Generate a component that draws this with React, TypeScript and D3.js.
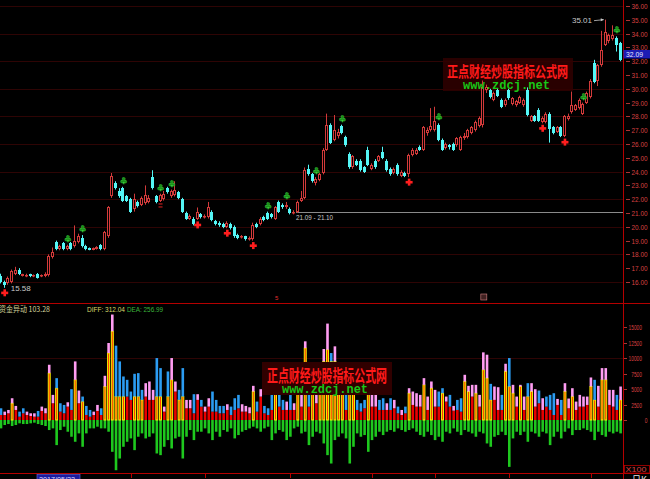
import React from "react";
import * as d3 from "d3";

// ---------- price data (daily candles) ----------
const opens = [16.4,16.0,15.9,16.0,16.6,16.9,16.45,16.4,16.55,16.4,
16.6,16.4,16.4,16.5,17.8,18.9,18.4,18.8,18.4,18.8,
18.6,18.9,19.2,18.6,18.45,18.35,18.4,18.7,18.4,19.3,
22.2,23.2,22.6,22.8,22.2,22.0,21.3,21.8,21.6,21.7,
21.8,23.6,22.2,21.9,22.0,22.8,22.2,22.3,22.5,22.0,
21.0,20.6,20.6,20.6,20.9,20.7,20.7,21.1,20.4,20.3,
20.2,20.0,20.2,20.0,19.4,19.25,19.3,19.1,19.1,20.2,
20.2,20.7,21.0,20.9,20.6,21.8,21.6,21.4,21.3,21.0,
21.1,21.9,22.1,24.2,23.8,23.2,23.4,23.9,25.6,27.4,
26.3,26.6,27.3,26.5,25.3,24.3,24.8,24.8,24.3,25.6,
24.2,24.8,24.8,25.4,24.8,24.2,23.9,24.5,23.7,23.9,
23.8,25.2,25.3,25.8,25.6,26.8,27.0,27.0,27.4,26.3,
25.7,25.9,26.0,25.9,25.6,26.4,26.5,26.8,27.0,27.3,
27.4,29.9,29.9,29.2,29.9,29.2,28.8,29.9,28.9,28.8,
29.0,28.8,29.9,27.7,28.0,28.5,27.6,27.6,28.2,27.2,
26.9,27.2,26.6,27.8,28.3,28.5,28.6,28.2,29.0,29.4,
31.9,30.6,31.7,33.2,33.5,33.6,33.7,33.3];

const closes = [16.0,15.8,16.3,16.8,16.9,16.6,16.55,16.5,16.4,16.5,
16.3,16.5,16.6,17.9,18.2,18.4,18.6,18.4,18.6,18.4,
19.0,19.3,18.6,18.4,18.35,18.45,18.55,18.4,19.6,21.4,
23.7,22.8,22.2,21.9,21.9,21.1,22.0,21.5,22.1,22.3,
22.1,22.8,21.8,22.3,22.4,22.5,22.6,22.7,22.1,21.1,
20.6,20.8,20.2,21.1,20.7,20.8,21.4,20.5,20.2,20.1,
20.0,20.3,19.9,19.3,19.2,19.35,19.1,19.2,20.1,20.0,
20.6,20.5,20.6,20.7,21.4,21.1,21.4,21.6,21.0,21.1,
21.8,22.1,24.1,23.8,23.3,23.5,23.8,25.6,27.4,26.1,
27.0,26.9,26.8,25.9,24.3,25.1,24.5,24.1,24.0,24.5,
24.5,24.3,25.1,25.0,24.1,23.8,24.2,23.8,24.0,23.7,
25.2,25.6,25.6,25.6,27.2,27.0,27.3,27.7,26.3,25.6,
26.0,25.75,25.6,26.4,26.5,26.6,27.0,27.2,27.6,27.9,
30.1,30.1,29.4,29.7,29.5,28.7,29.2,29.3,29.3,29.1,
29.4,29.2,28.1,28.0,27.7,27.7,27.9,28.2,27.1,26.8,
27.2,26.6,28.0,28.0,28.8,28.8,29.2,28.9,29.7,30.6,
30.5,31.7,32.8,34.1,33.9,33.9,33.2,32.09];

const highs = [16.6,16.1,16.4,16.9,17.1,17.0,16.6,16.6,16.6,16.55,
16.65,16.55,16.7,18.0,18.5,19.0,18.7,18.9,18.7,18.9,
20.1,19.5,19.4,18.7,18.5,18.5,18.6,18.75,19.7,21.5,
23.9,23.3,22.8,22.9,22.3,22.1,22.4,21.9,22.2,23.0,
22.3,24.1,22.3,22.4,22.6,22.9,22.7,23.3,22.6,22.1,
21.1,20.9,20.7,21.4,21.0,20.9,21.8,21.2,20.5,20.4,
20.3,20.4,20.3,20.1,19.5,19.4,19.35,19.3,20.3,20.3,
20.7,20.8,21.1,21.0,21.5,21.9,21.7,21.8,21.4,21.2,
21.9,22.6,24.3,24.5,23.9,23.6,23.9,25.7,28.2,27.5,
28.1,27.1,27.4,26.6,25.4,25.2,24.9,24.9,24.4,25.8,
24.6,24.9,25.2,25.8,24.9,24.3,24.3,24.6,24.1,24.0,
25.3,25.7,25.7,25.9,27.3,27.2,28.6,28.7,27.5,26.4,
26.1,26.0,26.1,26.5,26.6,26.8,27.1,27.3,27.7,28.0,
30.6,30.3,30.0,29.8,30.0,29.3,29.3,30.0,29.4,29.2,
29.5,29.3,30.1,28.1,28.1,28.6,28.0,28.3,28.3,27.3,
27.3,27.3,28.1,28.2,29.8,28.9,29.3,29.0,29.8,30.7,
32.1,31.8,34.2,35.01,34.0,34.6,33.8,33.4];

const lows = [15.9,15.58,15.8,15.9,16.5,16.5,16.4,16.35,16.35,16.35,
16.25,16.35,16.35,16.4,17.7,18.3,18.3,18.3,18.3,18.3,
18.5,18.8,18.5,18.3,18.3,18.3,18.35,18.3,18.3,19.2,
22.1,22.7,22.1,21.8,21.8,21.0,21.1,21.4,21.5,21.6,
21.7,22.7,21.7,21.8,21.9,22.4,22.1,22.2,22.0,21.0,
20.5,20.5,20.1,20.5,20.6,20.6,20.6,20.4,20.1,20.0,
19.9,19.9,19.8,19.2,19.1,19.15,19.0,19.0,19.0,19.9,
20.1,20.4,20.5,20.6,20.5,21.0,21.3,21.3,20.9,20.9,
21.0,21.8,22.0,23.7,23.2,23.0,23.3,23.8,25.5,26.0,
26.2,26.4,26.7,25.8,24.2,24.2,24.4,24.0,23.9,24.4,
24.1,24.2,24.7,24.9,24.0,23.7,23.8,23.7,23.6,23.6,
23.6,25.1,25.2,25.5,25.5,26.6,26.9,26.9,26.2,25.5,
25.6,25.6,25.5,25.8,25.5,26.3,26.4,26.7,26.9,27.2,
27.2,29.7,29.3,29.1,29.4,28.6,28.7,29.2,28.8,28.7,
28.9,28.7,28.0,27.6,27.6,27.6,27.5,27.5,26.1,26.7,
26.8,26.5,26.5,27.7,28.2,28.4,28.5,28.1,28.9,29.3,
30.4,30.2,31.6,33.1,33.3,33.5,32.7,32.0];

// ---------- lower panel (资金异动, X100) ----------
const volTotal = [1890,1350,1620,3510,2270,1350,1890,1350,1080,1080,
1460,2160,1890,8910,4050,6750,2700,2430,2860,4970,
9450,4750,3780,2270,1620,1350,2430,1890,7130,12420,
17010,11990,9450,7020,6480,4590,7450,7560,4860,5940,
6210,4860,9990,8370,2160,7830,9990,6210,4860,8370,
3240,3240,4160,4160,3240,2160,3510,4590,3240,2270,
2270,2540,2160,3510,4050,2540,2270,2050,5510,2970,
4970,2270,1890,5400,5900,4900,3240,2970,5600,2700,
6200,5000,12690,4700,6800,5300,6500,11450,15550,10800,
11880,7200,6000,5200,7600,6300,3240,2700,3240,6600,
5100,4700,3240,3510,2700,3510,3240,2160,1620,2160,
5130,4590,4320,4050,6750,3780,6210,4860,4590,5130,
3780,4050,2270,3240,3510,7290,5510,5670,5670,4050,
10910,10530,5830,5400,5290,4050,9070,9990,5670,3780,
5670,3780,5940,5940,4970,4750,3510,3780,4050,4320,
3400,3240,5940,3460,5130,2970,4050,3780,3780,6860,
6480,5510,8370,8370,4860,4860,4050,5400];

const volRed = [810,810,1080,2700,1620,540,1080,810,650,540,
540,1460,1080,7560,2700,5130,1350,1080,2160,1620,
6480,2700,2970,810,540,810,1460,810,5400,10800,
14310,3780,3780,3780,3780,3240,3780,3780,3240,3780,
3240,3240,3780,3780,1350,3780,6480,4590,3240,3780,
1890,1890,1080,3240,2160,1350,2160,1350,1350,1080,
1080,1620,810,1620,1890,1350,1350,1080,4590,1350,
3780,1080,810,1620,5300,2160,1620,1620,1620,1620,
5600,2160,11610,2160,6200,2700,5900,9450,11340,9450,
9450,6600,5400,1620,7000,5700,1620,1350,1890,6000,
2160,2160,1620,1620,1620,1620,1890,1080,810,1080,
4320,2430,2160,2160,5670,1620,5130,2160,2160,4320,
2970,2160,1510,1620,1350,6210,4590,3780,4320,2160,
8100,6750,3240,3240,1620,1620,7830,5400,4320,2160,
5400,1620,3780,4590,2160,2700,1620,2160,1620,810,
2430,810,4590,1890,3780,1620,2160,2160,2430,5400,
3240,2160,6480,6480,2430,2160,1620,3240];

const volNeg = [1350,810,650,970,810,540,650,650,540,430,
650,810,970,1620,1350,4050,1620,1080,1890,2700,
3510,2160,4320,2160,1350,1350,1080,1350,1350,1890,
5130,8100,6210,4320,3510,2970,4860,2700,2160,2970,
2700,2160,5400,5670,4320,3240,4590,2970,2700,6210,
2700,1620,3240,1890,1890,1350,2160,3240,1890,2700,
1620,1890,1350,2970,2430,1890,1620,1350,1080,1350,
1890,1350,1080,3240,2160,1620,1890,3240,2700,1350,
1080,2160,1890,4050,2700,1890,2160,3780,5670,7020,
3240,2700,2160,2970,7020,4320,2160,2700,2430,5130,
3240,2700,1890,2430,1890,1620,1890,1350,1620,1890,
1620,1350,1890,2430,2700,1890,2430,3240,2700,3510,
1890,2160,1350,1890,2430,1620,1890,2160,2700,1890,
2160,3780,4320,2700,2430,1890,2430,7560,2970,1890,
2430,1890,3510,1890,2160,2700,1890,2160,4050,2700,
1890,2970,1890,1350,2430,1620,1620,1350,1620,1890,
3240,1890,2430,2700,1890,2160,1890,2160];

// cap colour of each bar: p = pink, b = blue
const capKinds =
  "bppppbbppp" + "bppppbbbpb" + "ppbbbppbpp" + "pbbbbbbbbp" + "ppbbpbppbb" +
  "ppbpbppbbb" + "bpbbbppppb" + "pbbbbbbpbp" + "pppbppbppb" + "pbbbbbbbbp" +
  "ppbbpbpbpb" + "ppppppppbb" + "pbpbbppppp" + "ppbppbpbpp" + "ppbppbpbbb" +
  "pbpppppppp" + "bpppppbp";
// y = yellow-framed bar
const yellowFlags =
  "...y......" + "...y.y...." + "y.y.....yy" + "yyyy..yyy." + "..yy.yy.yy" +
  ".........." + "........y." + "....y....." + "y.y.y.yyyy" + "yyy.yy...y" +
  ".........." + "y...y.y..y" + ".....yy.y." + "yyy...yyy." + "y.yy......" +
  "..y.y....y" + "y.yy...y";

const priceTicks = [16,17,18,19,20,21,22,23,24,25,26,27,28,29,30,31,32,33,34,35,36];
const volTicks = [0,2500,5000,7500,10000,12500,15000];
const monthLabels = ["7","8","9","10","11","12","1"];
const monthStarts = [35,55,78,100,117,137,159];
const clubIdx = [18,22,33,43,46,72,77,85,92,118,157,166];
const crossIdx = [1,53,61,68,110,146,152];
const rangeLow = 21.09, rangeHigh = 21.10, rangeStart = 79;
const fundValue = 103.28, diffValue = 312.04, deaValue = 256.99;
const cursorDate = "2017/05/22";

const W = 650, H = 479, AX = 623;

export default function App() {
  const n = closes.length;
  const x = d3.scaleLinear().domain([0, n - 1]).range([1, 620.6]);
  const y = d3.scaleLinear().domain([16, 36]).range([282, 6]);
  const yv = d3.scaleLinear().domain([0, 15000]).range([420, 327]);
  const num = "'Liberation Sans', Arial, sans-serif";
  const cjk = "'Noto Sans CJK SC', sans-serif";
  const upC = "#d23a3a", dnC = "#54f6f6";
  const axisRed = "#b40000", labRed = "#d84040", gridC = "#2e0404";
  const hiIdx = d3.maxIndex(highs);
  const loIdx = d3.minIndex(lows);
  const last = closes[n - 1];

  const candles = closes.map((c, i) => {
    const o = opens[i];
    const cx = Math.round(x(i));
    const up = c >= o;
    const col = up ? upC : dnC;
    const yTop = Math.round(y(Math.max(o, c)));
    const yBot = Math.round(y(Math.min(o, c)));
    const h = Math.max(1, yBot - yTop);
    return (
      <g key={"c" + i}>
        <line x1={cx - 0.5} x2={cx - 0.5} y1={y(highs[i])} y2={yTop} stroke={col} strokeWidth={1} />
        <line x1={cx - 0.5} x2={cx - 0.5} y1={yTop + h} y2={y(lows[i])} stroke={col} strokeWidth={1} />
        {up ? (
          <rect x={cx - 1.5} y={yTop + 0.5} width={2} height={Math.max(h - 1, 0.5)} fill="#000" stroke={col} strokeWidth={1} />
        ) : (
          <rect x={cx - 2} y={yTop} width={3} height={h} fill={col} />
        )}
      </g>
    );
  });

  const bars = volTotal.map((t, i) => {
    const cx = x(i);
    const r = volRed[i];
    const capCol = capKinds[i] === "p" ? "#ff9cf2" : "#2b9cf2";
    const yel = yellowFlags[i] === "y";
    return (
      <g key={"v" + i}>
        <rect x={cx - 1.3} y={yv(0)} width={2.6} height={yv(-volNeg[i]) - yv(0)} fill="#1ec81e" />
        {yel ? (
          <rect x={cx - 1.0} y={yv(r)} width={2.0} height={yv(0) - yv(r)} fill="#ff3a00" stroke="#ffff00" strokeWidth={0.9} />
        ) : (
          <rect x={cx - 1.3} y={yv(r)} width={2.6} height={yv(0) - yv(r)} fill="#e80000" />
        )}
        <rect x={cx - 1.3} y={yv(t)} width={2.6} height={Math.max(0, yv(r) - yv(t))} fill={capCol} />
      </g>
    );
  });

  return (
    <svg width={W} height={H} style={{ position: "absolute", left: 0, top: 0, display: "block" }}>
      <rect width={W} height={H} fill="#000" />

      {/* price grid */}
      {priceTicks.filter((p) => p % 2 === 0).map((p) => (
        <line key={"g" + p} x1={0} x2={AX} y1={Math.round(y(p)) + 0.5} y2={Math.round(y(p)) + 0.5} stroke={gridC} />
      ))}
      {/* lower grid */}
      <line x1={0} x2={AX} y1={Math.round(yv(10000)) + 0.5} y2={Math.round(yv(10000)) + 0.5} stroke={gridC} />

      {/* range line */}
      <line x1={x(rangeStart) + 2} x2={AX} y1={Math.round(y(rangeHigh)) + 0.5} y2={Math.round(y(rangeHigh)) + 0.5} stroke="#8a8a8a" />
      <text x={x(rangeStart) + 2} y={y(rangeLow) + 8} fill="#c8c8c8" fontFamily={num} fontSize={8} textLength={37} lengthAdjust="spacingAndGlyphs">
        {rangeLow.toFixed(2)} - {rangeHigh.toFixed(2)}
      </text>

      {/* watermark (upper) */}
      <rect x={443} y={58} width={130} height={33} fill="#300000" opacity={0.85} />

      {candles}

      <text x={447} y={77} fill="#ff1a1a" fontFamily={cjk} fontSize={15} fontWeight="bold" textLength={121} lengthAdjust="spacingAndGlyphs">正点财经炒股指标公式网</text>
      <text x={463} y={88.5} fill="#18c818" fontFamily="'Liberation Mono', monospace" fontSize={12} fontWeight="bold" textLength={87} lengthAdjust="spacingAndGlyphs">www.zdcj.net</text>

      {/* signals */}
      {clubIdx.map((i) => (
        <text key={"k" + i} x={x(i)} y={y(highs[i]) - 3} fill="#1a8a1a" stroke="#3cd23c" strokeWidth={0.4} fontFamily="'DejaVu Sans', sans-serif" fontSize={9} textAnchor="middle">♣</text>
      ))}
      {crossIdx.map((i) => {
        const cx = x(i), cy = y(lows[i]) + 5;
        return (
          <g key={"x" + i} fill="#ff1e1e">
            <rect x={cx - 3.5} y={cy - 1.2} width={7} height={2.6} />
            <rect x={cx - 1.3} y={cy - 3.5} width={2.6} height={7} />
          </g>
        );
      })}
      <g fill="#e02020">
        <rect x={x(43) - 2} y={y(lows[43]) + 1.5} width={4} height={1} />
        <rect x={x(43) - 2} y={y(lows[43]) + 4.5} width={4} height={1} />
      </g>

      {/* high / low marks */}
      <text x={592} y={y(highs[hiIdx]) + 3} fill="#c8c8c8" fontFamily={num} fontSize={8} textAnchor="end">{highs[hiIdx].toFixed(2)}</text>
      <line x1={594} x2={x(hiIdx) - 2} y1={y(highs[hiIdx]) + 1} y2={y(highs[hiIdx])} stroke="#c8c8c8" strokeWidth={0.8} />
      <path d={`M${x(hiIdx) - 2},${y(highs[hiIdx])} l-3,-1.5 l0,3 z`} fill="#c8c8c8" />
      <text x={x(loIdx) + 6} y={y(lows[loIdx]) + 3} fill="#c8c8c8" fontFamily={num} fontSize={8}>{lows[loIdx].toFixed(2)}</text>

      {/* info markers near bottom of price panel */}
      <text x={x(74) + 1} y={300} fill="#e03030" fontFamily={num} fontSize={6} textAnchor="middle">5</text>
      <rect x={x(130) - 2.5} y={294} width={6} height={6} fill="#402020" stroke="#d08080" strokeWidth={0.6} />

      {/* lower panel bars */}
      {bars}

      {/* lower watermark */}
      <rect x={262} y={362} width={130} height={33} fill="#300000" />
      <text x={267} y={382} fill="#ff1a1a" fontFamily={cjk} fontSize={17} fontWeight="bold" textLength={120} lengthAdjust="spacingAndGlyphs">正点财经炒股指标公式网</text>
      <text x={282} y={393} fill="#18c818" fontFamily="'Liberation Mono', monospace" fontSize={12} fontWeight="bold" textLength={86} lengthAdjust="spacingAndGlyphs">www.zdcj.net</text>

      {/* separators and axis */}
      <line x1={0} x2={W} y1={303.5} y2={303.5} stroke={axisRed} />
      <line x1={0} x2={W} y1={473.5} y2={473.5} stroke={axisRed} />
      <line x1={AX + 0.5} x2={AX + 0.5} y1={0} y2={H} stroke={axisRed} />

      {/* price axis */}
      {priceTicks.map((p) => (
        <g key={"p" + p}>
          <line x1={AX + 3} x2={AX + 7} y1={Math.round(y(p)) + 0.5} y2={Math.round(y(p)) + 0.5} stroke={labRed} strokeWidth={0.8} />
          <text x={647.5} y={y(p) + 3} fill={labRed} fontFamily={num} fontSize={8} textAnchor="end" textLength={16} lengthAdjust="spacingAndGlyphs">{p.toFixed(2)}</text>
        </g>
      ))}
      <rect x={AX + 0.5} y={y(last) - 10} width={27} height={8.5} fill="#1c1cb4" />
      <text x={626} y={y(last) - 3} fill="#e8e8ff" fontFamily={num} fontSize={8} textLength={17} lengthAdjust="spacingAndGlyphs">{last.toFixed(2)}</text>

      {/* lower axis */}
      {volTicks.map((v) => (
        <g key={"t" + v}>
          <line x1={AX + 1} x2={AX + 4} y1={Math.round(yv(v)) + 0.5} y2={Math.round(yv(v)) + 0.5} stroke={labRed} strokeWidth={0.8} />
          <text x={v === 0 ? 647.5 : 642} y={yv(v) + 3} fill={labRed} fontFamily={num} fontSize={7.5} textAnchor="end" textLength={String(v).length * 2.7} lengthAdjust="spacingAndGlyphs">{v}</text>
        </g>
      ))}
      <rect x={AX + 1.5} y={465.5} width={25} height={7.5} fill="#000" stroke={axisRed} strokeWidth={0.8} />
      <text x={625.5} y={471.5} fill={labRed} fontFamily={num} fontSize={7} textLength={21} lengthAdjust="spacingAndGlyphs">X100</text>
      <text x={632} y={483} fill="#e8e8e8" fontFamily={cjk} fontSize={9}>日K</text>

      {/* header of lower panel */}
      <text x={-1} y={312} fill="#d2d29a" fontFamily={cjk} fontSize={8} textLength={51} lengthAdjust="spacingAndGlyphs">资金异动 {fundValue.toFixed(2)}</text>
      <text x={87} y={312} fill="#d8d86a" fontFamily={num} fontSize={8} textLength={38} lengthAdjust="spacingAndGlyphs">DIFF: {diffValue.toFixed(2)}</text>
      <text x={127} y={312} fill="#3cb43c" fontFamily={num} fontSize={8} textLength={36} lengthAdjust="spacingAndGlyphs">DEA: {deaValue.toFixed(2)}</text>

      {/* date axis */}
      <rect x={37} y={474.5} width={43} height={8} fill="#1c1ca0" stroke="#6a6ae0" strokeWidth={0.6} />
      <text x={39} y={481.5} fill="#d8d8ff" fontFamily={num} fontSize={8} textLength={36} lengthAdjust="spacingAndGlyphs">{cursorDate}</text>
      {monthLabels.map((m, k) => (
        <g key={"m" + m}>
          <line x1={Math.round(x(monthStarts[k])) + 0.5} x2={Math.round(x(monthStarts[k])) + 0.5} y1={474} y2={478} stroke={axisRed} />
          <text x={x(monthStarts[k]) + 2} y={484} fill="#d84040" fontFamily={num} fontSize={8}>{m}</text>
        </g>
      ))}
    </svg>
  );
}
